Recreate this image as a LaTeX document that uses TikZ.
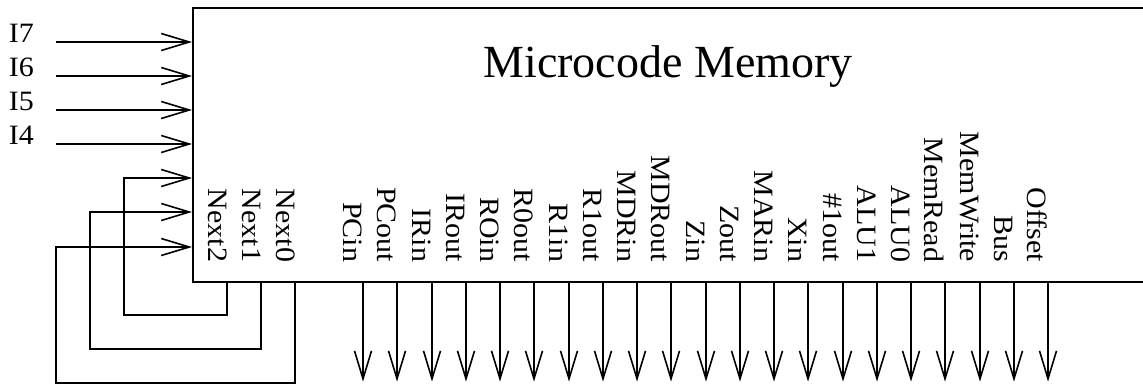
\documentclass[tikz,border=0pt]{standalone}
\usepackage{fontspec}
\setmainfont{Liberation Serif}
\newfontfamily\pinfont{Liberation Serif}[FakeStretch=1.07]
\usetikzlibrary{arrows.meta}
\tikzset{
  sig/.style = {-{Straight Barb[length=14pt,width=8.5pt]}, line width=0.8pt},
  pin/.style = {font=\pinfont\fontsize{14}{16}\selectfont, inner sep=0pt},
  vpin/.style = {pin, rotate=-90, anchor=north east}
}
\begin{document}
\begin{tikzpicture}[x=0.5pt, y=-0.5pt, line width=0.8pt]
\clip (0,0) rectangle (1143,386);
\node [draw, anchor=north west, inner sep=0pt, minimum width=520pt, minimum height=137pt] (mem) at (192,7) {};
\node [anchor=base, font=\fontsize{23}{26}\selectfont, inner sep=0pt] (title) at (668,77) {Microcode Memory};
% opcode inputs
\foreach \bit/\y in {7/42, 6/76, 5/110, 4/144} {
  \node [pin, anchor=base west] (in\bit) at (8,\y) {I\bit};
  \coordinate (s\bit) at (56,\y);
  \draw [sig] (s\bit) -- (s\bit -| mem.west);
}
% next address fed back
\foreach \k/\x/\d/\l/\y in {2/227/34/124/178, 1/261/68/90/212, 0/295/102/56/247} {
  \node [vpin] (next\k) at (\x+1,263) {Next\k};
  \coordinate (b\k) at (\x,281);
  \draw [sig] (b\k) -- ++(0,\d) -| (\l,\y) -- (mem.west |- 0,\y);
}
% control outputs
\foreach \name [count=\i from 0] in {PCin,PCout,IRin,IRout,ROin,R0out,R1in,R1out,MDRin,MDRout,Zin,Zout,MARin,Xin,\#1out,ALU1,ALU0,MemRead,MemWrite,Bus,Offset} {
  \pgfmathtruncatemacro\cx{363.5+34.25*\i}
  \node [vpin] (out\i) at (\cx,263) {\name};
  \draw [sig] (out\i.north east |- mem.south) -- ++(0,99);
}
\end{tikzpicture}
\end{document}
